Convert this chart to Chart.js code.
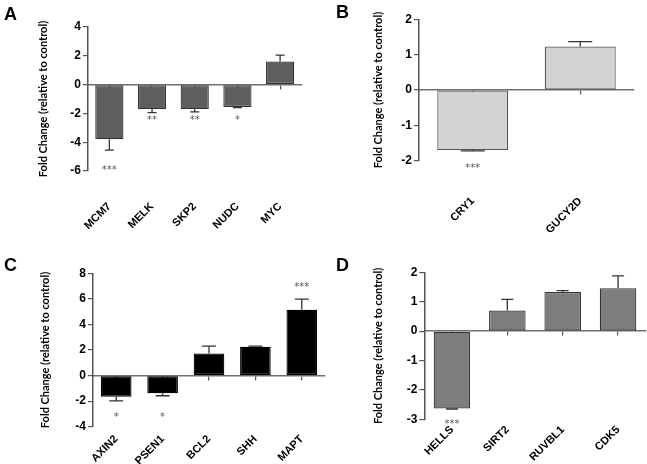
<!DOCTYPE html>
<html>
<head>
<meta charset="utf-8">
<script src="https://cdn.jsdelivr.net/npm/chart.js@4.4.1/dist/chart.umd.min.js"></script>
<style>
  html, body { margin: 0; padding: 0; background: #fff; }
  #wrap { position: relative; width: 647px; height: 464px; overflow: hidden; }
  canvas { position: absolute; }
  .lbl { position: absolute; font-family: "Liberation Sans", Arial, sans-serif; font-weight: bold; font-size: 18px; color: #000; line-height: 1; }
</style>
</head>
<body>
<div id="wrap">
  <canvas id="cA" width="320" height="232" style="left:0;top:0"></canvas>
  <canvas id="cB" width="327" height="232" style="left:320px;top:0"></canvas>
  <canvas id="cC" width="330" height="232" style="left:0;top:232px"></canvas>
  <canvas id="cD" width="317" height="232" style="left:330px;top:232px"></canvas>
  <div class="lbl" style="left:4px;top:5px">A</div>
  <div class="lbl" style="left:336px;top:3px">B</div>
  <div class="lbl" style="left:4px;top:256px">C</div>
  <div class="lbl" style="left:336px;top:256px">D</div>
</div>
<script>
// ---- Data ----
const yTitle = 'Fold Change (relative to control)';

const catsA = ['MCM7', 'MELK', 'SKP2', 'NUDC', 'MYC'];
const valsA = [-3.8, -1.7, -1.7, -1.55, 1.6];
const errA = [-4.55, -1.95, -1.9, -1.6, 2.05];
const starsA = ['***', '**', '**', '*', ''];
const starPosA = [-5.75, -2.3, -2.3, -2.3, null];
const yTicksA = [-6, -4, -2, 0, 2, 4];

const catsB = ['CRY1', 'GUCY2D'];
const valsB = [-1.7, 1.23];
const errB = [-1.72, 1.37];
const starsB = ['***', ''];
const starPosB = [-2.13, null];
const yTicksB = [-2, -1, 0, 1, 2];

const catsC = ['AXIN2', 'PSEN1', 'BCL2', 'SHH', 'MAPT'];
const valsC = [-1.65, -1.38, 1.72, 2.25, 5.15];
const errC = [-1.98, -1.58, 2.3, 2.3, 5.98];
const starsC = ['*', '*', '', '', '***'];
const starPosC = [-3.0, -3.0, null, null, 7.15];
const yTicksC = [-4, -2, 0, 2, 4, 6, 8];

const catsD = ['HELLS', 'SIRT2', 'RUVBL1', 'CDK5'];
const valsD = [-2.63, 0.7, 1.33, 1.46];
const errD = [-2.65, 1.08, 1.38, 1.88];
const starsD = ['***', '', '', ''];
const starPosD = [-3.06, null, null, null];
const yTicksD = [-3, -2, -1, 0, 1, 2];

// ---- Plugins ----
const errBarPlugin = {
  id: 'errbars',
  afterDatasetsDraw(chart, args, opts) {
    const ctx = chart.ctx;
    const meta = chart.getDatasetMeta(0);
    const ys = chart.scales.y;
    ctx.save();
    ctx.strokeStyle = opts.color || '#333';
    ctx.lineWidth = 1.3;
    meta.data.forEach((bar, i) => {
      const v = opts.values[i];
      if (v === null || v === undefined) return;
      const x = bar.x;
      const y0 = bar.y;
      const y1 = ys.getPixelForValue(v);
      ctx.beginPath();
      ctx.moveTo(x, y0);
      ctx.lineTo(x, y1);
      ctx.moveTo(x - opts.cap / 2, y1);
      ctx.lineTo(x + opts.cap / 2, y1);
      ctx.stroke();
    });
    ctx.restore();
  }
};

const starPlugin = {
  id: 'stars',
  afterDraw(chart, args, opts) {
    const ctx = chart.ctx;
    const meta = chart.getDatasetMeta(0);
    const ys = chart.scales.y;
    ctx.save();
    ctx.fillStyle = '#5a5a5a';
    ctx.font = '10px "DejaVu Sans", sans-serif';
    ctx.textAlign = 'center';
    ctx.textBaseline = 'middle';
    meta.data.forEach((bar, i) => {
      const t = opts.text[i];
      const p = opts.pos[i];
      if (!t || p === null) return;
      // asterisks sit high in the em box; nudge so the glyphs are centred on the value
      ctx.fillText(t, bar.x, ys.getPixelForValue(p) + 3);
    });
    ctx.restore();
  }
};

function makePanel(id, cats, vals, errs, stars, starPos, yTicks, s) {
  new Chart(document.getElementById(id), {
    type: 'bar',
    data: {
      labels: cats,
      datasets: [{
        data: vals,
        backgroundColor: s.fill,
        borderColor: s.border,
        borderWidth: 1.2,
        borderSkipped: false,
        categoryPercentage: 1,
        barPercentage: 0.66
      }]
    },
    options: {
      responsive: false,
      animation: false,
      devicePixelRatio: 1,
      layout: { padding: { left: s.padL, right: s.padR, top: s.padT, bottom: 0 } },
      plugins: {
        legend: { display: false },
        tooltip: { enabled: false },
        errbars: { values: errs, cap: s.cap, color: '#333' },
        stars: { text: stars, pos: starPos }
      },
      scales: {
        x: {
          type: 'category',
          position: 'bottom',
          offset: true,
          grid: { display: false, drawTicks: false },
          border: { display: false },
          ticks: {
            autoSkip: false,
            minRotation: 45,
            maxRotation: 45,
            padding: s.labPad,
            color: '#000',
            font: { family: '"Liberation Sans", Arial, sans-serif', weight: 'bold', size: 11 }
          },
          afterFit(scale) { scale.height = s.xH; }
        },
        x0: {
          type: 'category',
          axis: 'x',
          position: { y: 0 },
          offset: true,
          z: 1,
          grid: { drawOnChartArea: false, drawTicks: true, tickLength: 4, offset: false, color: '#555', lineWidth: 1.2 },
          border: { display: true, color: '#6e6e6e', width: 1.5 },
          ticks: { display: false }
        },
        y: {
          min: yTicks[0],
          max: yTicks[yTicks.length - 1],
          afterBuildTicks(scale) { scale.ticks = yTicks.map(v => ({ value: v })); },
          grid: { drawOnChartArea: false, drawTicks: true, tickLength: 5, color: '#555', lineWidth: 1.2 },
          border: { display: true, color: '#555', width: 1.5 },
          ticks: {
            padding: 2,
            color: '#000',
            font: { family: '"Liberation Sans", Arial, sans-serif', weight: 'bold', size: 12 }
          },
          title: {
            display: true,
            text: yTitle,
            color: '#000',
            padding: 0,
            font: { family: 'Lato', weight: 'bold', size: 11, lineHeight: 1.2 }
          },
          afterFit(scale) { scale.width = s.yW; }
        }
      }
    },
    plugins: [errBarPlugin, starPlugin]
  });
}

makePanel('cA', catsA, valsA, errA, starsA, starPosA, yTicksA,
  { fill: '#5e5e5e', border: '#333', padL: 36.4, yW: 51.6, padR: 15.5, padT: 27, xH: 61, labPad: 29, cap: 9 });
makePanel('cB', catsB, valsB, errB, starsB, starPosB, yTicksB,
  { fill: '#d3d3d3', border: '#555', padL: 51.4, yW: 47.6, padR: 13, padT: 19.3, xH: 71.3, labPad: 34, cap: 24 });
makePanel('cC', catsC, valsC, errC, starsC, starPosC, yTicksC,
  { fill: '#000000', border: '#000', padL: 38.4, yW: 54.6, padR: 5, padT: 41.3, xH: 37.3, labPad: 6, cap: 14 });
makePanel('cD', catsD, valsD, errD, starsD, starPosD, yTicksD,
  { fill: '#7d7d7d', border: '#333', padL: 41.4, yW: 52.9, padR: 1.25, padT: 40.3, xH: 44.7, labPad: 4, cap: 12 });
</script>
</body>
</html>
